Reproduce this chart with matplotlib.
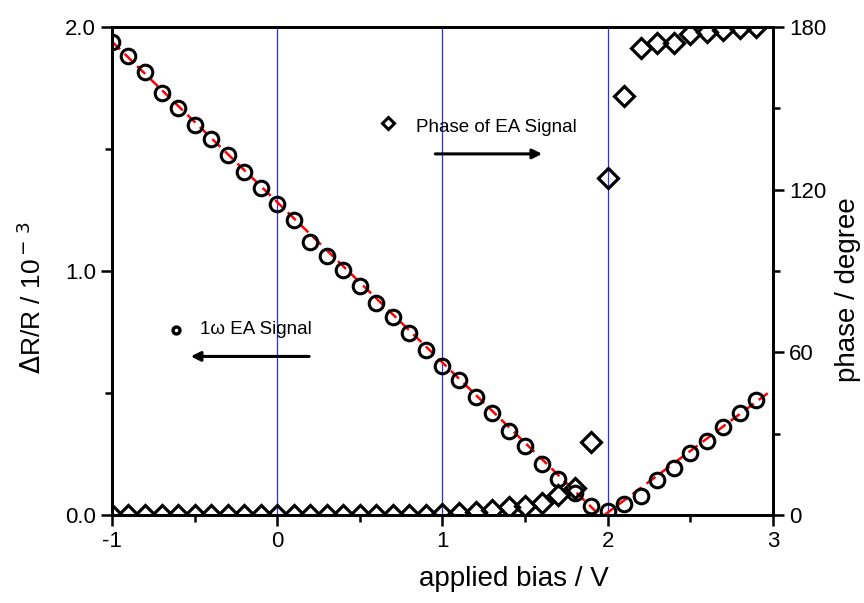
import matplotlib
matplotlib.use("Agg")
import matplotlib.pyplot as plt
from matplotlib.ticker import MultipleLocator
import numpy as np

plt.rcParams['font.family'] = ['Liberation Sans', 'DejaVu Sans']
plt.rcParams['axes.unicode_minus'] = False

# bias sweep, 0.1 V steps
bias = np.round(np.arange(-1.0, 2.95, 0.1), 2)

# 1w electroabsorption amplitude (dR/R, units of 1e-3)
ea_amp = [1.94, 1.88, 1.815, 1.73, 1.67, 1.60, 1.54, 1.475, 1.405, 1.34,
          1.275, 1.21, 1.12, 1.06, 1.005, 0.94, 0.87, 0.81, 0.745, 0.675,
          0.61, 0.553, 0.484, 0.418, 0.344, 0.283, 0.209, 0.148, 0.09, 0.037,
          0.016, 0.045, 0.078, 0.143, 0.193, 0.254, 0.303, 0.361, 0.418, 0.471]

# phase of the EA signal (degree)
ea_phase = [0, 0, 0, 0, 0, 0, 0, 0, 0, 0,
            0, 0, 0, 0, 0, 0, 0, 0, 0, 0,
            0.3, 0.6, 1.2, 2.0, 3.0, 3.3, 4.4, 7.4, 10.0, 27.0,
            124.3, 154.5, 172.3, 174.1, 174.0, 177.6, 178.0, 179.0, 179.5, 180.0]

# linear fits on both sides of the minimum
fit_left_x = [-1.0, 1.95]
fit_left_y = [1.94, 0.0]
fit_right_x = [1.98, 3.0]
fit_right_y = [0.0, 0.515]

guide_x = [0, 1, 2]

fig = plt.figure(figsize=(8.64, 6.03), dpi=100)
ax = fig.add_axes([0.1296, 0.1459, 0.765, 0.8093])
ax2 = ax.twinx()

for gx in guide_x:
    ax.axvline(gx, color='#2a2aff', lw=0.9, zorder=1)

ax.plot(fit_left_x, fit_left_y, color='red', lw=1.8, ls=(0, (4.5, 2.5)), zorder=2)
ax.plot(fit_right_x, fit_right_y, color='red', lw=1.8, ls=(0, (4.5, 2.5)), zorder=2)
ax.plot(bias, ea_amp, 'o', ms=10.5, mfc='none', mec='black', mew=2.2, zorder=3)

ax2.plot(bias, ea_phase, 'D', ms=10.5, mfc='none', mec='black', mew=2.3, zorder=3)

ax.set_xlim(-1, 3)
ax.set_ylim(0, 2.0)
ax2.set_ylim(0, 180)

ax.xaxis.set_major_locator(MultipleLocator(1))
ax.xaxis.set_minor_locator(MultipleLocator(0.5))
ax.yaxis.set_major_locator(MultipleLocator(1.0))
ax.yaxis.set_minor_locator(MultipleLocator(0.5))
ax2.yaxis.set_major_locator(MultipleLocator(60))
ax2.yaxis.set_minor_locator(MultipleLocator(30))
ax.yaxis.set_major_formatter(plt.FormatStrFormatter('%.1f'))

for a in (ax, ax2):
    a.tick_params(which='major', direction='out', length=8, width=1.8, labelsize=16)
    a.tick_params(which='minor', direction='out', length=5, width=1.8)
    for s in a.spines.values():
        s.set_linewidth(2.0)

ax.set_xlabel('applied bias / V', fontsize=20)
ax.xaxis.set_label_coords(0.608, -0.105)
ax.set_ylabel(r'$\Delta$R/R / 10$^{\rm -\,3}$', fontsize=19)
ax.yaxis.set_label_coords(-0.10, 0.445)
ax2.set_ylabel('phase / degree', fontsize=20)
ax2.yaxis.set_label_coords(1.094, 0.461)

# in-plot legends with arrows pointing to the matching axis
ax.plot([0.67], [1.605], 'D', ms=6, mfc='none', mec='black', mew=2.2, clip_on=False)
ax.text(0.84, 1.59, 'Phase of EA Signal', fontsize=13.5, va='center')
ax.annotate('', xy=(1.62, 1.48), xytext=(0.94, 1.48),
            arrowprops=dict(arrowstyle='-|>', lw=2.2, color='black', mutation_scale=14))

ax.plot([-0.61], [0.76], 'o', ms=5, mfc='none', mec='black', mew=2.4)
ax.text(-0.47, 0.76, '1ω EA Signal', fontsize=13.5, va='center')
ax.annotate('', xy=(-0.54, 0.65), xytext=(0.21, 0.65),
            arrowprops=dict(arrowstyle='-|>', lw=2.2, color='black', mutation_scale=14))

fig.savefig('out.png', dpi=100)
